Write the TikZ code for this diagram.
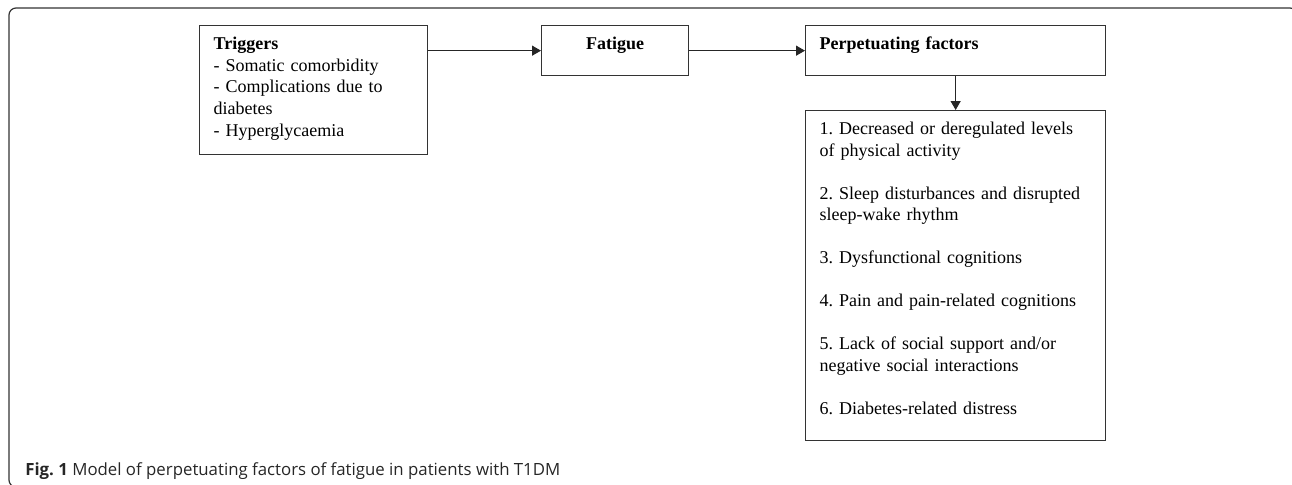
\documentclass[tikz,border=0pt]{standalone}
\usepackage{fontspec}
\setmainfont{Liberation Serif}
\newfontfamily\capfont{Open Sans}
\usetikzlibrary{arrows.meta}
\frenchspacing
\tikzset{
  box/.style={draw=black!80,line width=0.65pt,anchor=north west,align=left,
    inner xsep=7pt,inner ysep=2pt,text height=10pt,
    font=\fontsize{9pt}{10.8pt}\selectfont},
  arr/.style={draw=black!85,line width=0.65pt,-{Triangle[length=4.5pt,width=5pt]}}
}
\begin{document}
\begin{tikzpicture}[x=0.5pt,y=-0.5pt]
\useasboundingbox (0,0) rectangle (1292,484);
% outer frame
\draw[black!80,line width=0.6pt,rounded corners=3.5pt](9,8) rectangle (1297,487);
% boxes
\node[box,text width=100pt,text depth=50.5pt](trig) at(199,25){\textbf{Triggers}\\- Somatic comorbidity\\- Complications due to\\diabetes\\- Hyperglycaemia};
\node[box,text width=59.5pt,text depth=11pt,align=center](fat) at(541,25){\textbf{Fatigue}};
\node[box,text width=136pt,text depth=11pt](perp) at(805,25){\textbf{Perpetuating factors}};
\node[box,text width=136pt,text depth=151pt,font=\fontsize{9pt}{10.75pt}\selectfont](list) at(805,110){1. Decreased or deregulated levels\\of physical activity\\[10.75pt]
2. Sleep disturbances and disrupted\\sleep-wake rhythm\\[10.75pt]
3. Dysfunctional cognitions\\[10.75pt]
4. Pain and pain-related cognitions\\[10.75pt]
5. Lack of social support and/or\\negative social interactions\\[10.75pt]
6. Diabetes-related distress};
% arrows
\draw[arr](trig.east |- fat.west)--(fat.west);
\draw[arr](fat.east)--(perp.west);
\draw[arr](perp.south)--(list.north);
% caption
\node[anchor=base west,inner sep=0pt,text=black!85,font=\capfont\fontsize{8.4pt}{10pt}\selectfont](cap) at(25,475){\textbf{Fig. 1} Model of perpetuating factors of fatigue in patients with T1DM};
\end{tikzpicture}
\end{document}
